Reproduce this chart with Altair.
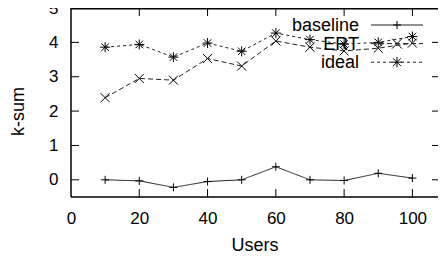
import altair as alt
import pandas as pd

users = [10, 20, 30, 40, 50, 60, 70, 80, 90, 100]
baseline = [0.0, -0.03, -0.22, -0.05, 0.0, 0.38, 0.0, -0.02, 0.19, 0.05]
ert = [2.39, 2.95, 2.90, 3.53, 3.31, 4.04, 3.86, 3.75, 3.83, 3.98]
ideal = [3.86, 3.94, 3.57, 3.98, 3.74, 4.27, 4.08, 3.95, 4.00, 4.17]
series = ["baseline", "ERT", "ideal"]
x_ticks = [0, 20, 40, 60, 80, 100]
y_ticks = [0, 1, 2, 3, 4, 5]

W, H = 367, 189
FONT = "Liberation Sans"

rows = []
for name, vals in zip(series, [baseline, ert, ideal]):
    for u, v in zip(users, vals):
        rows.append({"users": u, "ksum": v, "series": name})
df = pd.DataFrame(rows)

shapes = {
    "baseline": "M-1,0L1,0M0,-1L0,1",
    "ERT": "M-1,-1L1,1M-1,1L1,-1",
    "ideal": "M-1,0L1,0M0,-1L0,1M-0.75,-0.75L0.75,0.75M-0.75,0.75L0.75,-0.75",
}
sizes = {"baseline": 64, "ERT": 100, "ideal": 110}
dashes = {"baseline": [1, 0], "ERT": [5, 3], "ideal": [3, 3]}

xs = alt.Scale(domain=[0, 107.5], nice=False)
ys = alt.Scale(domain=[-0.5, 5], nice=False)

xaxis = alt.Axis(values=x_ticks, title="Users", ticks=False, tickSize=0,
                 domain=False, grid=False, labelFlush=False, labelPadding=13,
                 labelOverlap=False,
                 labelFontSize=17, labelFont=FONT, labelColor="black",
                 titleFontSize=18, titleFont=FONT, titleFontWeight="normal",
                 titleColor="black", titleY=53, titleBaseline="alphabetic")
yaxis = alt.Axis(values=y_ticks, title="k-sum", ticks=False, tickSize=0,
                 domain=False, grid=False, labelFlush=False, labelPadding=13,
                 labelOverlap=False,
                 labelFontSize=17, labelFont=FONT, labelColor="black",
                 titleFontSize=18, titleFont=FONT, titleFontWeight="normal",
                 titleColor="black", titleX=-48, titleY=103, titleAngle=270,
                 titleAlign="center", titleBaseline="alphabetic")

base = alt.Chart(df)

lines = base.mark_line(strokeWidth=1, color="#222").encode(
    x=alt.X("users:Q", scale=xs, axis=xaxis, title="Users"),
    y=alt.Y("ksum:Q", scale=ys, axis=yaxis, title="k-sum"),
    detail="series:N",
    strokeDash=alt.StrokeDash("series:N", scale=alt.Scale(domain=series,
                              range=[dashes[s] for s in series]), legend=None),
)

points = base.mark_point(filled=False, strokeWidth=1, color="black", opacity=1).encode(
    x=alt.X("users:Q", scale=xs, axis=xaxis, title="Users"),
    y=alt.Y("ksum:Q", scale=ys, axis=yaxis, title="k-sum"),
    shape=alt.Shape("series:N", scale=alt.Scale(domain=series,
                    range=[shapes[s] for s in series]), legend=None),
    size=alt.Size("series:N", scale=alt.Scale(domain=series,
                  range=[sizes[s] for s in series]), legend=None),
)

# frame (left, top, bottom) and inner ticks (gnuplot style, mirrored)
one = pd.DataFrame({"a": [0]})
frame = [
    alt.Chart(one).mark_rule(color="black", strokeWidth=1.5).encode(
        x=alt.value(0), x2=alt.value(W), y=alt.value(0.75)),
    alt.Chart(one).mark_rule(color="black", strokeWidth=1.5).encode(
        x=alt.value(0), x2=alt.value(W), y=alt.value(H)),
    alt.Chart(one).mark_rule(color="black", strokeWidth=1.5).encode(
        x=alt.value(0), y=alt.value(0), y2=alt.value(H)),
]
tx = pd.DataFrame({"t": x_ticks[1:]})
ty = pd.DataFrame({"t": y_ticks[:-1]})
TL = 8
tick_layers = [
    alt.Chart(tx).mark_rule(color="black", strokeWidth=1).encode(
        x=alt.X("t:Q", scale=xs, axis=xaxis, title="Users"), y=alt.value(H), y2=alt.value(H - TL)),
    alt.Chart(tx).mark_rule(color="black", strokeWidth=1).encode(
        x=alt.X("t:Q", scale=xs, axis=xaxis, title="Users"), y=alt.value(0), y2=alt.value(TL)),
    alt.Chart(ty).mark_rule(color="black", strokeWidth=1).encode(
        y=alt.Y("t:Q", scale=ys, axis=yaxis, title="k-sum"), x=alt.value(0), x2=alt.value(TL)),
    alt.Chart(ty).mark_rule(color="black", strokeWidth=1).encode(
        y=alt.Y("t:Q", scale=ys, axis=yaxis, title="k-sum"), x=alt.value(W), x2=alt.value(W - 6)),
]

# legend (gnuplot style: label left, sample line right)
leg_layers = []
for i, s in enumerate(series):
    yl = 17 + i * 18.6
    leg_layers.append(alt.Chart(one).mark_text(align="right", baseline="middle",
                      fontSize=18, font=FONT, color="black").encode(
        x=alt.value(288), y=alt.value(yl + 1), text=alt.value(s)))
    leg_layers.append(alt.Chart(one).mark_rule(color="#222", strokeWidth=1,
                      strokeDash=dashes[s]).encode(
        x=alt.value(300), x2=alt.value(352), y=alt.value(yl)))
    leg_layers.append(alt.Chart(one).mark_point(filled=False, strokeWidth=1,
                      color="black", opacity=1, shape=shapes[s], size=sizes[s]).encode(
        x=alt.value(326), y=alt.value(yl)))

chart = alt.layer(lines, points, *frame, *tick_layers, *leg_layers).properties(
    width=W, height=H,
    autosize=alt.AutoSizeParams(type="none"),
    padding={"left": 63, "top": 0, "right": 0, "bottom": 56},
    background="white",
).configure_view(stroke=None).configure_axis(labelColor="black")

chart.save("out.html", embed_options={"renderer": "svg", "actions": False})
